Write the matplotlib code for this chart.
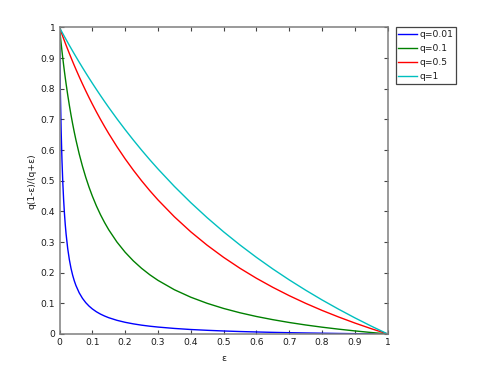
import matplotlib
matplotlib.use("Agg")
import matplotlib.pyplot as plt

# values
eps = [0, 0.0025, 0.005, 0.0075, 0.01, 0.0125, 0.015, 0.0175, 0.02, 0.025,
       0.03, 0.035, 0.04, 0.045, 0.05, 0.06, 0.07, 0.08, 0.09, 0.1, 0.1125,
       0.125, 0.1375, 0.15, 0.175, 0.2, 0.225, 0.25, 0.275, 0.3, 0.35, 0.4,
       0.45, 0.5, 0.55, 0.6, 0.65, 0.7, 0.75, 0.8, 0.85, 0.9, 0.95, 1.0]
y_q001 = [1, 0.798, 0.6633, 0.5671, 0.495, 0.4389, 0.394, 0.3573, 0.3267,
          0.2786, 0.2425, 0.2144, 0.192, 0.1736, 0.1583, 0.1343, 0.1163,
          0.1022, 0.091, 0.0818, 0.0724, 0.0648, 0.0585, 0.0531, 0.0446,
          0.0381, 0.033, 0.0288, 0.0254, 0.0226, 0.0181, 0.0146, 0.012,
          0.0098, 0.008, 0.0066, 0.0053, 0.0042, 0.0033, 0.0025, 0.0017,
          0.0011, 0.0005, 0]
y_q01 = [1, 0.9732, 0.9476, 0.9233, 0.9, 0.8778, 0.8565, 0.8362, 0.8167,
         0.78, 0.7462, 0.7148, 0.6857, 0.6586, 0.6333, 0.5875, 0.5471,
         0.5111, 0.4789, 0.45, 0.4176, 0.3889, 0.3632, 0.34, 0.3, 0.2667,
         0.2385, 0.2143, 0.1933, 0.175, 0.1444, 0.12, 0.1, 0.0833, 0.0692,
         0.0571, 0.0467, 0.0375, 0.0294, 0.0222, 0.0158, 0.01, 0.0048, 0]
y_q05 = [1, 0.9925, 0.9851, 0.9778, 0.9706, 0.9634, 0.9563, 0.9493, 0.9423,
         0.9286, 0.9151, 0.9019, 0.8889, 0.8761, 0.8636, 0.8393, 0.8158,
         0.7931, 0.7712, 0.75, 0.7245, 0.7, 0.6765, 0.6538, 0.6111, 0.5714,
         0.5345, 0.5, 0.4677, 0.4375, 0.3824, 0.3333, 0.2895, 0.25, 0.2143,
         0.1818, 0.1522, 0.125, 0.1, 0.0769, 0.0556, 0.0357, 0.0172, 0]
y_q1 = [1, 0.995, 0.99, 0.9851, 0.9802, 0.9753, 0.9704, 0.9656, 0.9608,
        0.9512, 0.9417, 0.9324, 0.9231, 0.9139, 0.9048, 0.8868, 0.8692,
        0.8519, 0.8349, 0.8182, 0.7978, 0.7778, 0.7582, 0.7391, 0.7021,
        0.6667, 0.6327, 0.6, 0.5686, 0.5385, 0.4815, 0.4286, 0.3793, 0.3333,
        0.2903, 0.25, 0.2121, 0.1765, 0.1429, 0.1111, 0.0811, 0.0526, 0.0256, 0]
labels = ["q=0.01", "q=0.1", "q=0.5", "q=1"]
ticks = [0, 0.1, 0.2, 0.3, 0.4, 0.5, 0.6, 0.7, 0.8, 0.9, 1]

plt.rcParams['font.family'] = ['DejaVu Sans']
plt.rcParams['font.size'] = 6.6

fig = plt.figure(figsize=(4.83, 3.77), dpi=100)
ax = fig.add_axes([0.1232, 0.1141, 0.6795, 0.813])

colors = ['#0000ff', '#008000', '#ff0000', '#00bfbf']
for ys, lab, c in zip([y_q001, y_q01, y_q05, y_q1], labels, colors):
    ax.plot(eps, ys, color=c, lw=1.0, label=lab)

ax.set_xlim(0, 1)
ax.set_ylim(0, 1)
ax.set_xticks(ticks)
ax.set_yticks(ticks)
ax.set_xticklabels([f"{t:g}" for t in ticks])
ax.set_yticklabels([f"{t:g}" for t in ticks])
ax.tick_params(direction='in', top=True, right=True, length=3, width=0.8,
               color='#444444', pad=3, labelcolor='#1a1a1a')
for s in ax.spines.values():
    s.set_color('#7f7f7f')
    s.set_linewidth(1.1)
ax.set_xlabel('ε', labelpad=5, color='#1a1a1a')
ax.set_ylabel('q(1-ε)/(q+ε)', labelpad=3, color='#1a1a1a')

leg = ax.legend(loc='upper left', bbox_to_anchor=(1.024, 1.001), fancybox=False,
                framealpha=1, edgecolor='#444444', handlelength=2.0,
                borderpad=0.3, labelspacing=0.55, handletextpad=0.35,
                borderaxespad=0)
leg.get_frame().set_linewidth(0.9)
for t in leg.get_texts():
    t.set_color('#1a1a1a')

fig.savefig('out.png', dpi=100)
plt.close(fig)
